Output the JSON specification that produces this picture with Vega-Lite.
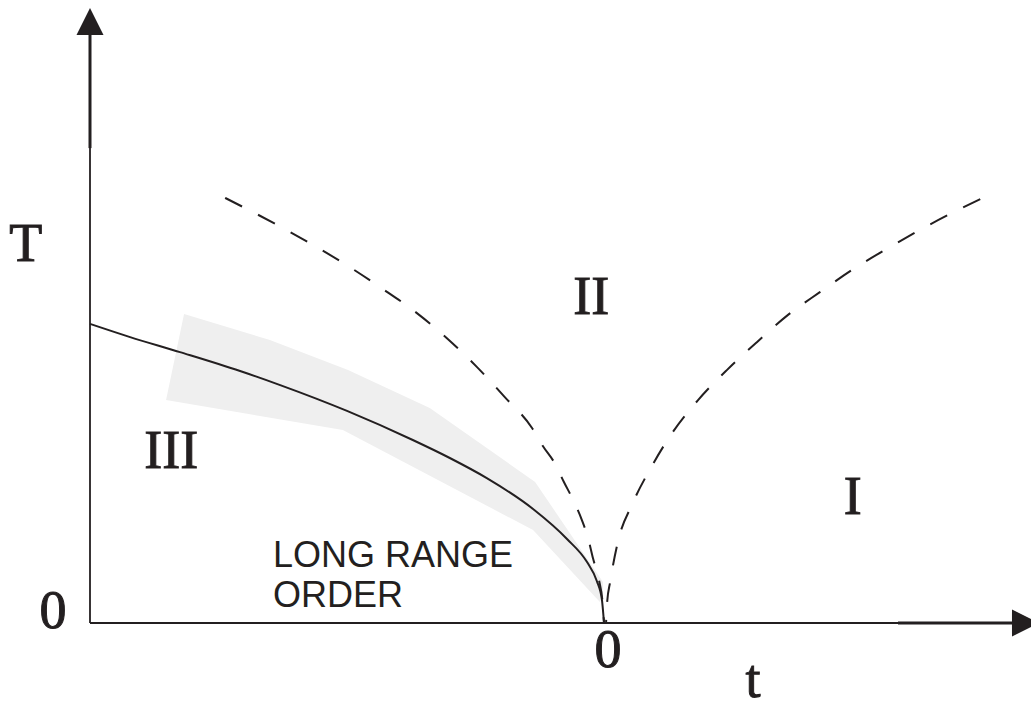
{
  "$schema": "https://vega.github.io/schema/vega-lite/v6.json",
  "width": 1031,
  "height": 702,
  "autosize": {"type": "none"},
  "padding": 0,
  "background": "white",
  "config": {"view": {"stroke": null}},
  "datasets": {
    "shade": [
      {"i": 1, "t": -0.817, "T": 1.030},
      {"i": 2, "t": -0.650, "T": 0.943},
      {"i": 3, "t": -0.498, "T": 0.843},
      {"i": 4, "t": -0.339, "T": 0.717},
      {"i": 5, "t": -0.134, "T": 0.470},
      {"i": 6, "t": -0.002, "T": 0.137},
      {"i": 7, "t": -0.002, "T": 0.093},
      {"i": 8, "t": -0.008, "T": 0.070},
      {"i": 9, "t": -0.138, "T": 0.310},
      {"i": 10, "t": -0.508, "T": 0.643},
      {"i": 11, "t": -0.852, "T": 0.743}
    ],
    "solid": [
      {"t": -1.000, "T": 0.997},
      {"t": -0.922, "T": 0.953},
      {"t": -0.825, "T": 0.903},
      {"t": -0.708, "T": 0.840},
      {"t": -0.630, "T": 0.793},
      {"t": -0.500, "T": 0.707},
      {"t": -0.372, "T": 0.610},
      {"t": -0.300, "T": 0.550},
      {"t": -0.228, "T": 0.483},
      {"t": -0.138, "T": 0.380},
      {"t": -0.072, "T": 0.280},
      {"t": -0.033, "T": 0.203},
      {"t": -0.014, "T": 0.140},
      {"t": -0.004, "T": 0.077},
      {"t": 0.000, "T": 0.000}
    ],
    "dashL": [
      {"t": -0.737, "T": 1.417},
      {"t": -0.636, "T": 1.327},
      {"t": -0.566, "T": 1.260},
      {"t": -0.498, "T": 1.190},
      {"t": -0.430, "T": 1.113},
      {"t": -0.364, "T": 1.033},
      {"t": -0.304, "T": 0.947},
      {"t": -0.247, "T": 0.853},
      {"t": -0.193, "T": 0.753},
      {"t": -0.140, "T": 0.650},
      {"t": -0.119, "T": 0.590},
      {"t": -0.095, "T": 0.530},
      {"t": -0.078, "T": 0.470},
      {"t": -0.060, "T": 0.410},
      {"t": -0.043, "T": 0.343},
      {"t": -0.031, "T": 0.283},
      {"t": -0.021, "T": 0.213},
      {"t": -0.0097, "T": 0.143},
      {"t": -0.002, "T": 0.053},
      {"t": 0.000, "T": 0.000}
    ],
    "dashR": [
      {"t": 0.004, "T": 0.000},
      {"t": 0.006, "T": 0.067},
      {"t": 0.012, "T": 0.137},
      {"t": 0.027, "T": 0.270},
      {"t": 0.056, "T": 0.400},
      {"t": 0.093, "T": 0.523},
      {"t": 0.134, "T": 0.637},
      {"t": 0.183, "T": 0.743},
      {"t": 0.239, "T": 0.843},
      {"t": 0.298, "T": 0.937},
      {"t": 0.358, "T": 1.027},
      {"t": 0.420, "T": 1.103},
      {"t": 0.488, "T": 1.183},
      {"t": 0.556, "T": 1.253},
      {"t": 0.625, "T": 1.320},
      {"t": 0.696, "T": 1.383},
      {"t": 0.732, "T": 1.413}
    ],
    "axes": [
      {"seg": "thin", "t": -1.0, "T": 0.0, "t2": -1.0, "T2": 1.583},
      {"seg": "thick", "t": -1.0, "T": 1.583, "t2": -1.0, "T2": 1.963},
      {"seg": "thin", "t": -1.0, "T": 0.0, "t2": 0.572, "T2": 0.0},
      {"seg": "thick", "t": 0.572, "T": 0.0, "t2": 0.796, "T2": 0.0}
    ],
    "arrowUp": [{"t": -1.0, "T": 2.005}],
    "arrowRight": [{"t": 0.820, "T": 0.0}],
    "labels": [
      {"label": "T", "t": -1.125, "T": 1.207},
      {"label": "0", "t": -1.072, "T": -0.017},
      {"label": "III", "t": -0.842, "T": 0.517},
      {"label": "II", "t": -0.025, "T": 1.030},
      {"label": "I", "t": 0.484, "T": 0.363},
      {"label": "0", "t": 0.008, "T": -0.147},
      {"label": "t", "t": 0.290, "T": -0.247}
    ],
    "sans": [
      {"label": "LONG RANGE", "t": -0.644, "T": 0.187},
      {"label": "ORDER", "t": -0.644, "T": 0.053}
    ]
  },
  "layer": [
    {
      "data": {"name": "shade"},
      "mark": {"type": "line", "filled": true, "color": "#efefef", "interpolate": "linear-closed"},
      "encoding": {
        "x": {"field": "t", "type": "quantitative", "scale": {"domain": [-1.1751, 0.83074], "nice": false, "zero": false}, "axis": null},
        "y": {"field": "T", "type": "quantitative", "scale": {"domain": [-0.26333, 2.07667], "nice": false, "zero": false}, "axis": null},
        "order": {"field": "i", "type": "quantitative"}
      }
    },
    {
      "data": {"name": "solid"},
      "mark": {"type": "line", "color": "#231f20", "strokeWidth": 2, "interpolate": "monotone"},
      "encoding": {
        "x": {"field": "t", "type": "quantitative"},
        "y": {"field": "T", "type": "quantitative"}
      }
    },
    {
      "data": {"name": "dashL"},
      "mark": {"type": "line", "color": "#231f20", "strokeWidth": 2, "strokeDash": [19, 18], "interpolate": "monotone"},
      "encoding": {
        "x": {"field": "t", "type": "quantitative"},
        "y": {"field": "T", "type": "quantitative"}
      }
    },
    {
      "data": {"name": "dashR"},
      "mark": {"type": "line", "color": "#231f20", "strokeWidth": 2, "strokeDash": [19, 18], "interpolate": "monotone"},
      "encoding": {
        "x": {"field": "t", "type": "quantitative"},
        "y": {"field": "T", "type": "quantitative"},
        "order": {"field": "t", "type": "quantitative", "sort": "descending"}
      }
    },
    {
      "data": {"name": "axes"},
      "mark": {"type": "rule", "color": "#231f20"},
      "encoding": {
        "x": {"field": "t", "type": "quantitative"},
        "y": {"field": "T", "type": "quantitative"},
        "x2": {"field": "t2"},
        "y2": {"field": "T2"},
        "strokeWidth": {"field": "seg", "type": "ordinal", "scale": {"domain": ["thin", "thick"], "range": [1.8, 3]}, "legend": null}
      }
    },
    {
      "data": {"name": "arrowUp"},
      "mark": {"type": "point", "shape": "M-1,1L0,-1L1,1Z", "filled": true, "color": "#231f20", "size": 729, "opacity": 1},
      "encoding": {
        "x": {"field": "t", "type": "quantitative"},
        "y": {"field": "T", "type": "quantitative"}
      }
    },
    {
      "data": {"name": "arrowRight"},
      "mark": {"type": "point", "shape": "M-1,-1L1,0L-1,1Z", "filled": true, "color": "#231f20", "size": 729, "opacity": 1},
      "encoding": {
        "x": {"field": "t", "type": "quantitative"},
        "y": {"field": "T", "type": "quantitative"}
      }
    },
    {
      "data": {"name": "labels"},
      "mark": {"type": "text", "font": "Liberation Serif", "fontSize": 54, "color": "#231f20", "stroke": "#231f20", "strokeWidth": 1, "align": "center", "baseline": "alphabetic"},
      "encoding": {
        "x": {"field": "t", "type": "quantitative"},
        "y": {"field": "T", "type": "quantitative"},
        "text": {"field": "label", "type": "nominal"}
      }
    },
    {
      "data": {"name": "sans"},
      "mark": {"type": "text", "font": "Liberation Sans", "fontSize": 36, "letterSpacing": 0.6, "color": "#231f20", "align": "left", "baseline": "alphabetic"},
      "encoding": {
        "x": {"field": "t", "type": "quantitative"},
        "y": {"field": "T", "type": "quantitative"},
        "text": {"field": "label", "type": "nominal"}
      }
    }
  ]
}
